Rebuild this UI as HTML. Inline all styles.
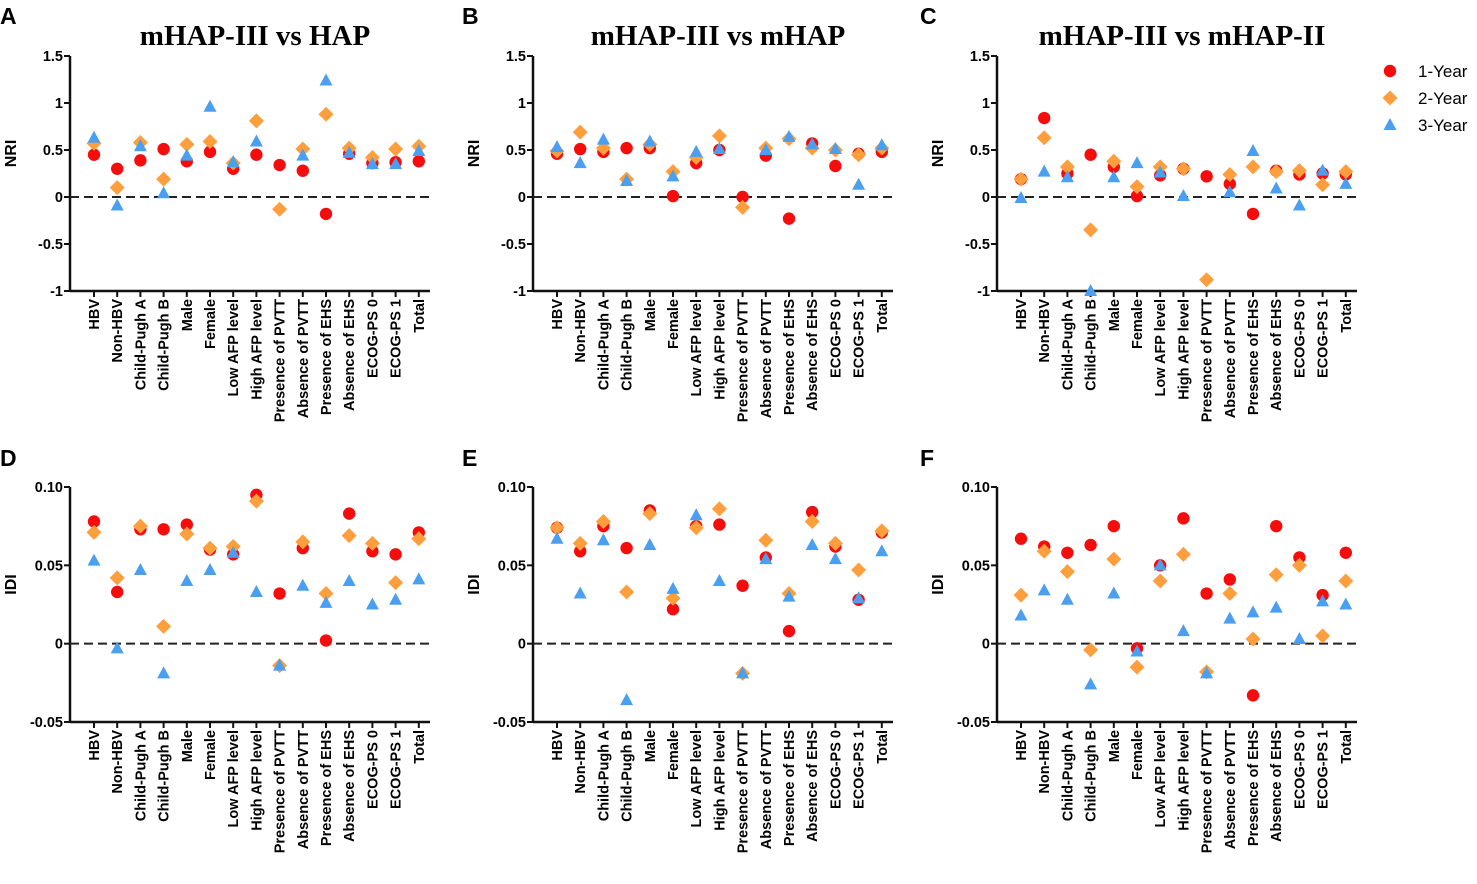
<!DOCTYPE html>
<html><head><meta charset="utf-8"><style>
html,body{margin:0;padding:0;background:#fff;}
svg{display:block;font-family:"Liberation Sans",Arial,sans-serif;}
</style></head><body>
<svg id="fig" width="1477" height="884" viewBox="0 0 1477 884" xmlns="http://www.w3.org/2000/svg"></svg>
<script>
const categories=["HBV","Non-HBV","Child-Pugh A","Child-Pugh B","Male","Female","Low AFP level","High AFP level","Presence of PVTT","Absence of PVTT","Presence of EHS","Absence of EHS","ECOG-PS 0","ECOG-PS 1","Total"];
const seriesNames=["1-Year","2-Year","3-Year"];
const nriTicks=["1.5","1","0.5","0","-0.5","-1"];
const nriTickVals=[1.5,1,0.5,0,-0.5,-1];
const idiTicks=["0.10","0.05","0","-0.05"];
const idiTickVals=[0.10,0.05,0,-0.05];
const panelTitles=["mHAP-III vs HAP","mHAP-III vs mHAP","mHAP-III vs mHAP-II"];
const panelLetters=["A","B","C","D","E","F"];
// NRI
const A_y1=[.45,.30,.39,.51,.38,.48,.30,.45,.34,.28,-.18,.46,.36,.37,.38];
const A_y2=[.57,.10,.58,.19,.56,.59,.36,.81,-.13,.51,.88,.52,.42,.51,.54];
const A_y3=[.63,-.09,.54,.04,.44,.96,.37,.59,null,.44,1.24,.47,.35,.35,.49];
const B_y1=[.46,.51,.48,.52,.52,.01,.36,.50,.00,.44,-.23,.57,.33,.46,.48];
const B_y2=[.49,.69,.52,.19,.56,.27,.42,.65,-.11,.52,.62,.52,.50,.45,.52];
const B_y3=[.53,.36,.61,.17,.59,.22,.48,.51,null,.50,.64,.56,.51,.13,.55];
const C_y1=[.19,.84,.25,.45,.32,.01,.23,.30,.22,.14,-.18,.28,.24,.25,.24];
const C_y2=[.19,.63,.32,-.35,.38,.11,.32,.30,-.88,.24,.32,.27,.28,.13,.27];
const C_y3=[-.01,.27,.21,-1.0,.21,.36,.26,.01,null,.05,.49,.09,-.09,.28,.14];
// IDI
const D_y1=[.078,.033,.073,.073,.076,.060,.057,.095,.032,.061,.002,.083,.059,.057,.071];
const D_y2=[.071,.042,.075,.011,.070,.061,.062,.091,-.014,.065,.032,.069,.064,.039,.067];
const D_y3=[.053,-.003,.047,-.019,.040,.047,.058,.033,-.014,.037,.026,.040,.025,.028,.041];
const E_y1=[.074,.059,.075,.061,.085,.022,.075,.076,.037,.055,.008,.084,.062,.028,.071];
const E_y2=[.074,.064,.078,.033,.083,.029,.074,.086,-.019,.066,.032,.078,.064,.047,.072];
const E_y3=[.067,.032,.066,-.036,.063,.035,.082,.040,-.019,.054,.030,.063,.054,.029,.059];
const F_y1=[.067,.062,.058,.063,.075,-.003,.050,.080,.032,.041,-.033,.075,.055,.031,.058];
const F_y2=[.031,.059,.046,-.004,.054,-.015,.040,.057,-.018,.032,.003,.044,.050,.005,.040];
const F_y3=[.018,.034,.028,-.026,.032,-.005,.050,.008,-.019,.016,.020,.023,.003,.027,.025];

const NS="http://www.w3.org/2000/svg";
const svg=document.getElementById('fig');
function mk(tag,attrs,parent,text){const e=document.createElementNS(NS,tag);for(const k in attrs)e.setAttribute(k,attrs[k]);if(text!==undefined)e.textContent=text;(parent||svg).appendChild(e);return e;}
const colors=["#f50d0d","#ff9e3d","#4a9ff0"];
function marker(g,s,x,y){
  let e;
  if(s===0){e=mk('circle',{cx:x,cy:y,r:6.2,fill:colors[0]},g);}
  else if(s===1){e=mk('polygon',{points:`${x},${y-7.5} ${x+7.5},${y} ${x},${y+7.5} ${x-7.5},${y}`,fill:colors[1]},g);}
  else {e=mk('polygon',{points:`${x},${y-7} ${x+6.5},${y+5} ${x-6.5},${y+5}`,fill:colors[2]},g);}
  return e;
}
const axX=[70,533,997];
const letterX=[0,462,920];
const panels=[
 {type:'nri',data:[A_y1,A_y2,A_y3]},{type:'nri',data:[B_y1,B_y2,B_y3]},{type:'nri',data:[C_y1,C_y2,C_y3]},
 {type:'idi',data:[D_y1,D_y2,D_y3]},{type:'idi',data:[E_y1,E_y2,E_y3]},{type:'idi',data:[F_y1,F_y2,F_y3]}];
panels.forEach((p,pi)=>{
  const col=pi%3,row=Math.floor(pi/3);
  const x0=axX[col];
  const top=row===0?56:487, bot=row===0?291:722;
  const vmax=row===0?1.5:0.10, vmin=row===0?-1:-0.05;
  const yS=v=>top+(vmax-v)/(vmax-vmin)*(bot-top);
  const xS=i=>x0+24+i*23.2;
  const g=mk('g',{},svg);
  
  
  const L=mk('text',{x:letterX[col],y:row===0?24:466,'font-size':23,'font-weight':'bold'},g,panelLetters[pi]);
  
  if(row===0){const t=mk('text',{x:x0+185,y:45,'font-size':29,'font-weight':'bold','text-anchor':'middle','font-family':'"Liberation Serif",serif'},g,panelTitles[col]);
    }
  const yt=mk('text',{transform:`translate(${x0-54},${(top+bot)/2-20}) rotate(-90)`,'font-size':16,'font-weight':'bold','text-anchor':'middle'},g,row===0?'NRI':'IDI');
  
  const ya=mk('line',{x1:x0,y1:top,x2:x0,y2:bot+1,stroke:'#111','stroke-width':2.5},g);
  
  const xa=mk('line',{x1:x0,y1:bot,x2:x0+360,y2:bot,stroke:'#111','stroke-width':2.5},g);
  
  const tl=row===0?nriTicks:idiTicks, tv=row===0?nriTickVals:idiTickVals;
  tv.forEach((v,k)=>{const y=yS(v);
    mk('line',{x1:x0-6,y1:y,x2:x0,y2:y,stroke:'#111','stroke-width':2},g);
    const t=mk('text',{x:x0-7,y:y+5,'font-size':14.5,'font-weight':'bold','text-anchor':'end'},g,tl[k]);
    });
  const z=mk('line',{x1:x0,y1:yS(0),x2:x0+360,y2:yS(0),stroke:'#222','stroke-width':2,'stroke-dasharray':'9,5'},g);
  
  categories.forEach((c,i)=>{const x=xS(i);
    mk('line',{x1:x,y1:bot,x2:x,y2:bot+6,stroke:'#111','stroke-width':2},g);
    const t=mk('text',{transform:`translate(${x+5},${bot+8}) rotate(-90)`,'font-size':14.5,'font-weight':'bold','text-anchor':'end'},g,c);
    });
  p.data.forEach((arr,s)=>{arr.forEach((v,i)=>{if(v===null)return;
    const m=marker(g,s,xS(i),yS(v));
    
    });});
});
const lg=mk('g',{},svg);


seriesNames.forEach((n,s)=>{const y=71+s*27;
  const m=marker(lg,s,1390,y);
  
  const t=mk('text',{x:1418,y:y+6,'font-size':17},lg,n);
  });
</script>
</body></html>
